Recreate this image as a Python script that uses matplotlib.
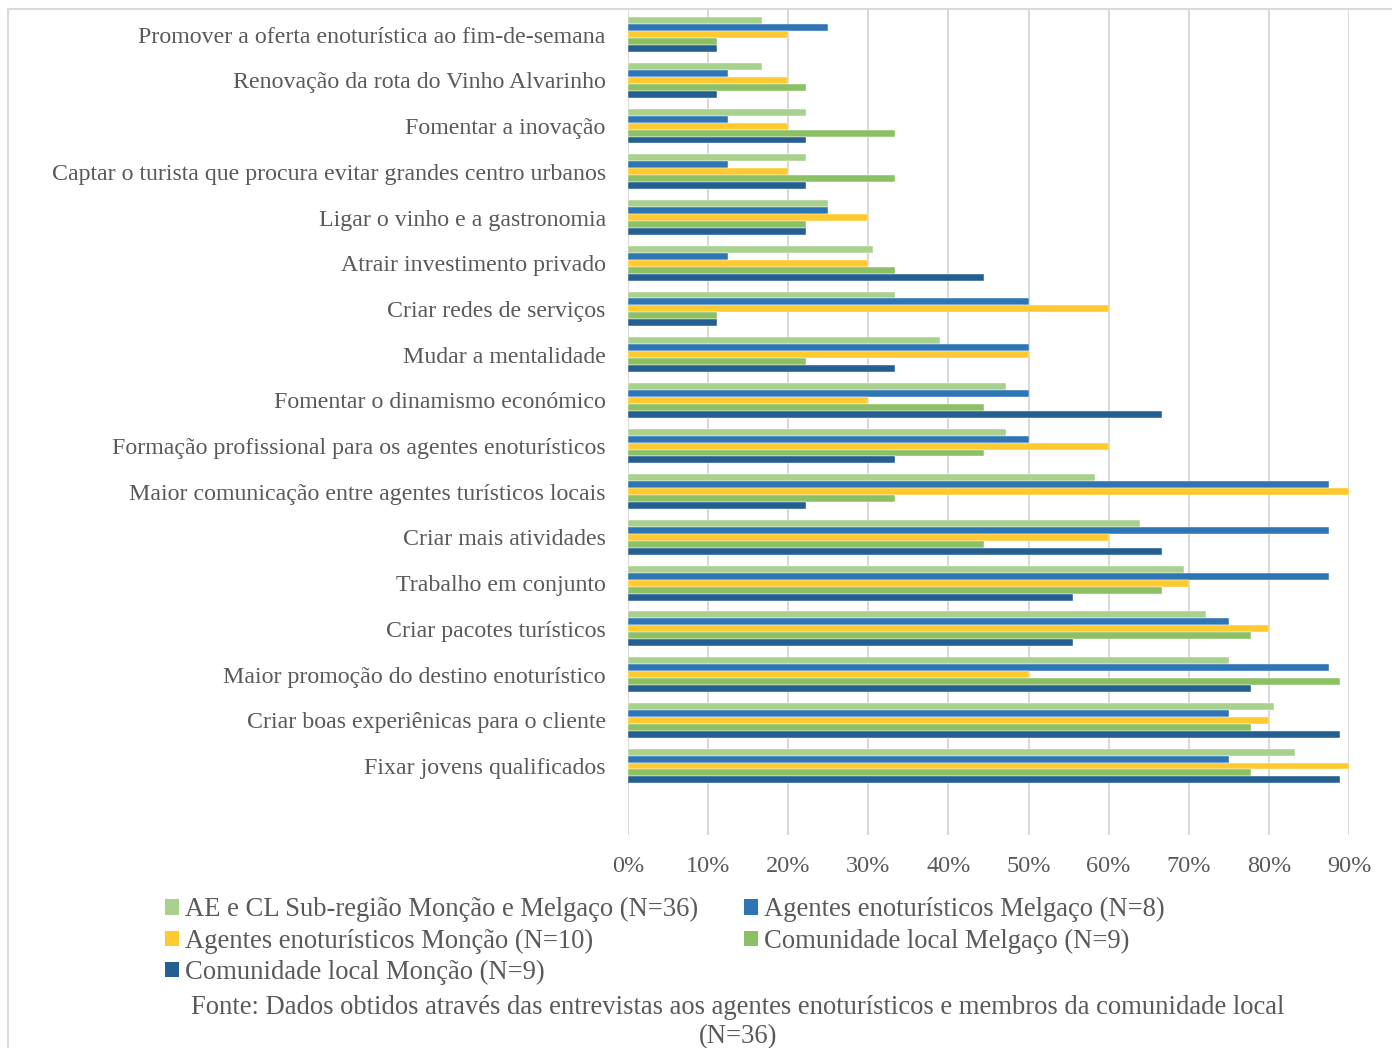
import matplotlib.pyplot as plt
import numpy as np
from matplotlib.patches import Patch

# Data
categories = [
    'Promover a oferta enoturística ao fim-de-semana',
    'Renovação da rota do Vinho Alvarinho',
    'Fomentar a inovação',
    'Captar o turista que procura evitar grandes centro urbanos',
    'Ligar o vinho e a gastronomia',
    'Atrair investimento privado',
    'Criar redes de serviços',
    'Mudar a mentalidade',
    'Fomentar o dinamismo económico',
    'Formação profissional para os agentes enoturísticos',
    'Maior comunicação entre agentes turísticos locais',
    'Criar mais atividades',
    'Trabalho em conjunto',
    'Criar pacotes turísticos',
    'Maior promoção do destino enoturístico',
    'Criar boas experiênicas para o cliente',
    'Fixar jovens qualificados',
]
series_names = [
    'AE e CL Sub-região Monção e Melgaço (N=36)',
    'Agentes enoturísticos Melgaço (N=8)',
    'Agentes enoturísticos Monção (N=10)',
    'Comunidade local Melgaço (N=9)',
    'Comunidade local Monção (N=9)',
]
ae_cl_total = [16.7, 16.7, 22.2, 22.2, 25.0, 30.6, 33.3, 38.9, 47.2, 47.2,
               58.3, 63.9, 69.4, 72.2, 75.0, 80.6, 83.3]
agentes_melgaco = [25.0, 12.5, 12.5, 12.5, 25.0, 12.5, 50.0, 50.0, 50.0, 50.0,
                   87.5, 87.5, 87.5, 75.0, 87.5, 75.0, 75.0]
agentes_moncao = [20, 20, 20, 20, 30, 30, 60, 50, 30, 60,
                  90, 60, 70, 80, 50, 80, 90]
comunidade_melgaco = [11.1, 22.2, 33.3, 33.3, 22.2, 33.3, 11.1, 22.2, 44.4, 44.4,
                      33.3, 44.4, 66.7, 77.8, 88.9, 77.8, 77.8]
comunidade_moncao = [11.1, 11.1, 22.2, 22.2, 22.2, 44.4, 11.1, 33.3, 66.7, 33.3,
                     22.2, 66.7, 55.6, 55.6, 77.8, 88.9, 88.9]

series = [ae_cl_total, agentes_melgaco, agentes_moncao, comunidade_melgaco, comunidade_moncao]
colors = ['#A9D18E', '#2E75B6', '#FFC930', '#8BC064', '#255E91']

plt.rcParams['font.family'] = ['Liberation Serif', 'DejaVu Serif']
text_color = '#595959'

fig = plt.figure(figsize=(13.92, 10.48), dpi=100)
ax = fig.add_axes([628 / 1392, 1 - 835 / 1048, (1349 - 628) / 1392, (835 - 10) / 1048])

y = np.arange(len(categories))
h = 0.152
for i, (vals, col) in enumerate(zip(series, colors)):
    ax.barh(y + (i - 2) * h, np.array(vals) / 100, height=h, color=col,
            edgecolor='white', linewidth=0.3, zorder=3, label=series_names[i])

ax.set_xlim(0, 0.9)
ax.set_ylim(len(categories) - 1 + 1.51, -0.54)
ax.set_xticks(np.arange(0, 0.91, 0.1))
ax.set_xticklabels(['{:.0f}%'.format(t * 100) for t in np.arange(0, 0.91, 0.1)])
ax.set_yticks(y)
ax.set_yticklabels(categories)
ax.tick_params(axis='both', length=0, labelcolor=text_color)
ax.tick_params(axis='y', pad=16, labelsize=17.2)
ax.tick_params(axis='x', pad=15, labelsize=17.5)
ax.grid(axis='x', color='#D9D9D9', linewidth=1.5, zorder=0)
for s in ax.spines.values():
    s.set_visible(False)

# Legend, row-major order in two columns
order = [0, 2, 4, 1, 3]
handles = [Patch(facecolor=colors[i], edgecolor='none') for i in order]
labels = [series_names[i] for i in order]
fig.legend(handles, labels, ncol=2, loc='upper left',
           bbox_to_anchor=(152 / 1392, 1 - 884 / 1048), frameon=False,
           fontsize=19.2, labelcolor=text_color, handlelength=0.5, handleheight=0.5,
           handletextpad=0.25, columnspacing=1.72, labelspacing=0.225, borderpad=0)

fig.text(738 / 1392, 1 - 995 / 1048,
         'Fonte: Dados obtidos através das entrevistas aos agentes enoturísticos e membros da comunidade local\n(N=36)',
         ha='center', va='top', fontsize=19.2, color=text_color, linespacing=1.22)

# Outer chart frame
fig.add_artist(plt.Line2D([8 / 1392, 8 / 1392], [0, 1 - 9 / 1048], transform=fig.transFigure,
                          color='#D9D9D9', linewidth=1.5))
fig.add_artist(plt.Line2D([8 / 1392, 1], [1 - 9 / 1048, 1 - 9 / 1048], transform=fig.transFigure,
                          color='#D9D9D9', linewidth=1.5))

plt.savefig('out.png', dpi=100)
